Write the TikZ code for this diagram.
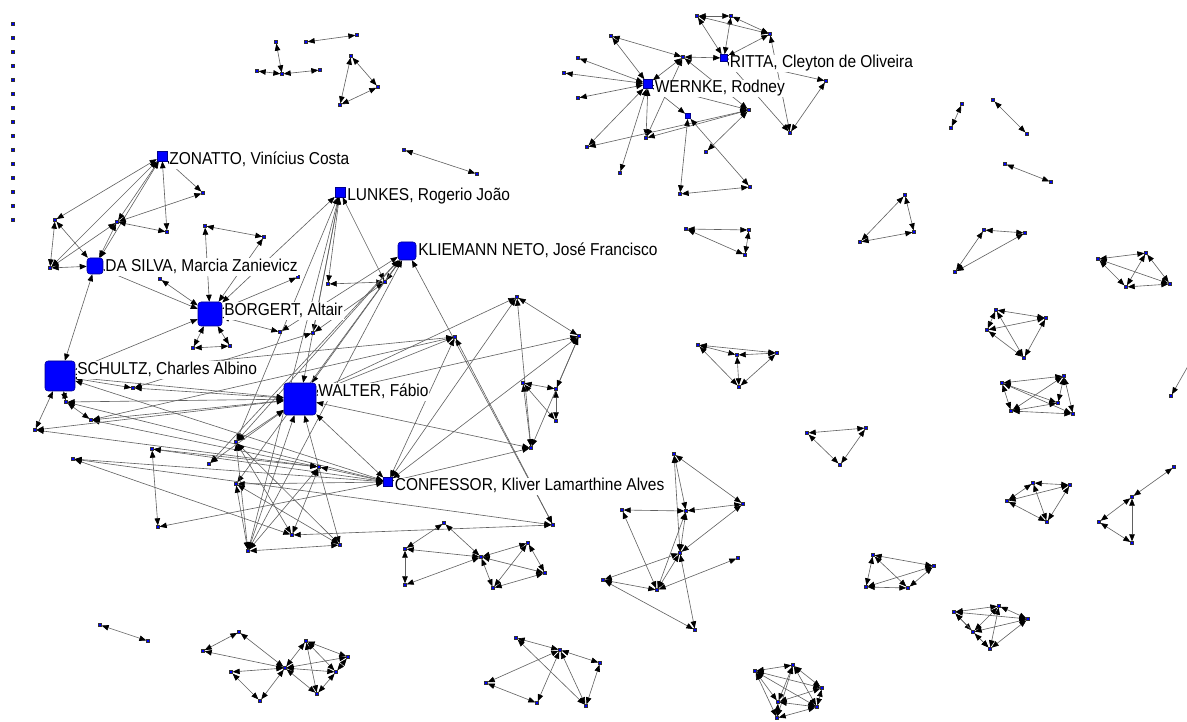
\documentclass[tikz,border=0pt]{standalone}
\usepackage{fontspec}
\setmainfont{Liberation Sans}
\newfontfamily\labfont[FakeStretch=0.9]{Liberation Sans}
\usetikzlibrary{arrows.meta}
\pgfdeclarelayer{bg}
\pgfsetlayers{bg,main}
\tikzset{
  v/.style={rectangle, fill=blue, draw=black!80, line width=0.2pt, minimum size=0.6mm, inner sep=0pt},
  hub/.style={rectangle, fill=blue, draw=blue!55!black, line width=0.3pt, inner sep=0pt},
  bighub/.style={hub, rounded corners=0.6mm},
  lab/.style={anchor=north west, fill=white, inner sep=0.4pt, text height=7.1pt, text depth=2.1pt, font=\labfont\fontsize{9.8}{11}\selectfont, xshift=0.2mm},
  lk/.style={draw=black!62, line width=0.35pt, arrows={Triangle[length=1.4mm,width=1.1mm,black]-Triangle[length=1.4mm,width=1.1mm,black]}}
}
\begin{document}
\begin{tikzpicture}[x=0.02cm,y=-0.02cm]
\useasboundingbox (0,0) rectangle (1187,722);
% isolates
\foreach \k in {0,...,14} \node[v] (iso\k) at (13,{24+14*\k}) {};
% hubs
\node[hub, minimum size=2mm] (Z) at (162,156) {};
\node[hub, minimum size=2mm] (L) at (340,192) {};
\node[bighub, minimum size=3.6mm] (K) at (407,251) {};
\node[bighub, minimum size=3.2mm] (DS) at (95,266) {};
\node[bighub, minimum size=4.8mm] (B) at (210,314) {};
\node[bighub, minimum size=6mm] (S) at (60,376) {};
\node[bighub, minimum size=6.4mm] (W) at (300,399) {};
\node[hub, minimum size=1.8mm] (CF) at (388,482) {};
\node[hub, minimum size=1.8mm] (Wk) at (648,84) {};
\node[hub, minimum size=1.4mm] (R) at (724,58) {};
\node[hub, minimum size=1.1mm] (p12) at (688,116) {};
% small nodes
\foreach \n/\x/\y in {n1/55/220, n2/50/268, n3/117/222, n4/167/232, n5/203/193, n6/205/226, n7/264/237,
  n9/160/279, n10/298/277, n11/280/332, n12/313/333, n13/193/348, n14/230/346, n15/328/284, n16/385/282,
  e1/133/388, e2/66/402, e3/91/420, e4/35/430, e5/152/449, e6/73/459, e7/236/442, e8/209/464, e9/319/467,
  e10/236/484, e11/158/527, e12/292/535, e13/340/545, e14/248/551, e15/455/337, e16/579/336, e17/523/383,
  e18/556/389, e19/556/421, e20/531/448, e21/553/525, f1/517/297,
  g1/444/523, g2/405/549, g3/405/585, g4/481/557, g5/528/543, g6/545/573, g7/493/588,
  h1/239/632, h2/203/651, h3/231/672, h4/260/701, h5/285/668, h6/306/641, h7/348/657, h8/336/672, h9/317/694,
  o1/100/625, o2/148/641,
  i1/516/638, i2/560/650, i5/600/663, i3/486/683, i4/537/703, i6/586/706,
  m1/674/454, m2/743/504, m3/686/511, m4/622/510, m5/680/553, m6/738/558, m7/603/580, m8/657/590, m9/695/630,
  k1/755/671, k2/793/665, k3/822/688, k4/817/707, k5/778/702, k6/777/718,
  p1/697/16, p2/731/16, p3/770/34, p4/611/36, p6/578/58, p7/564/73, p8/578/98, p9/683/57, p10/826/81,
  p11/749/110, p13/646/138, p14/587/147, p15/706/152, p16/790/133, p17/620/173, p18/680/194, p19/750/187,
  q1/276/42, q2/282/74, q3/257/71, q4/320/70, q5/306/42, q6/357/35, q7/351/56, q8/378/87, q9/340/105,
  q10/404/150, q11/477/174,
  r1/962/104, r2/951/128, r3/993/100, r4/1027/134, r5/1005/164, r6/1051/182,
  s1/984/230, s2/1025/233, s3/955/272,
  t1/1098/259, t2/1146/253, t3/1170/284, t4/1126/287,
  u1/996/310, u2/1046/318, u3/987/330, u4/1024/358,
  v1/1002/383, v2/1064/376, v3/1058/403, v4/1073/414, v5/1011/411, w1/1171/396,
  x1/686/229, x2/749/230, x3/745/255,
  y1/905/195, y2/914/232, y3/860/242,
  z1/698/345, z2/737/355, z3/777/353, z4/739/387,
  a1/807/433, a2/866/428, a3/840/465,
  b0/1174/467, b1/1132/497, b2/1099/522, b3/1132/543,
  c1/1033/483, c2/1070/485, c3/1007/501, c4/1047/522,
  d1/873/555, d2/934/566, d3/866/587, d4/908/588,
  f2/954/612, f3/999/606, f4/1028/619, f5/973/632, f6/990/649}
  \node[v] (\n) at (\x,\y) {};
\coordinate (wout) at (1196,352);
% labels
\node[lab] at (Z.north east) {ZONATTO, Vinícius Costa};
\node[lab] at (L.north east) {LUNKES, Rogerio João};
\node[lab] at (K.north east) {KLIEMANN NETO, José Francisco};
\node[lab] at (DS.north east) {DA SILVA, Marcia Zanievicz};
\node[lab] at (B.north east) {BORGERT, Altair};
\node[lab] at (S.north east) {SCHULTZ, Charles Albino};
\node[lab] at (W.north east) {WALTER, Fábio};
\node[lab] at (CF.north east) {CONFESSOR, Kliver Lamarthine Alves};
\node[lab] at (Wk.north east) {WERNKE, Rodney};
\node[lab] at (R.north east) {RITTA, Cleyton de Oliveira};
\begin{pgfonlayer}{bg}
\foreach \a/\b in {Z/n1, Z/n2, Z/n3, Z/n4, Z/n5, Z/DS, n1/n2, n1/DS, n2/DS, n3/n4, n3/n5, n3/n2, n3/DS,
  DS/B, DS/S, n9/B, n6/B, n6/n7, n7/B, L/B, n10/B, B/n11, n11/K, n13/n14, n13/B, n14/B, S/B, e1/n12,
  L/n12, n12/n16, L/n15, n15/n16, L/n16, K/n16, L/W, L/e7, L/e14, K/W, K/e7, K/e8, K/e14, K/e10, K/e21,
  CF/e15, CF/f1, CF/e16, CF/e20, f1/W, f1/e16, f1/e20, e16/e20, e16/e18, e16/W, e15/W, e15/S,
  e15/e21, e15/e3, e17/e18, e17/e19, e18/e19, e17/e20, W/e20, W/CF, S/CF, S/W, S/e1, e1/W, S/e4, e2/W,
  e3/W, e2/e3, e3/e9, e2/CF, e4/W, e4/e9, e5/e11, e5/e9, e5/CF, e6/e21, e6/e12, e6/CF, e7/W, e7/e14,
  e7/e12, e7/e13, e8/W, e9/e12, e9/e14, e9/CF, e10/e14, e10/e13, e10/CF, e11/CF, e12/e21, e13/e14,
  e13/W, e14/W, e2/S,
  g1/g2, g1/g4, g2/g3, g2/g4, g3/g4, g4/g5, g4/g6, g4/g7, g5/g6, g5/g7, g6/g7,
  h1/h2, h1/h5, h2/h5, h3/h5, h3/h4, h4/h5, h5/h6, h5/h7, h5/h8, h5/h9, h6/h7, h6/h8, h6/h9, h7/h8, h8/h9,
  o1/o2, i1/i2, i2/i5, i1/i6, i2/i3, i2/i4, i2/i6, i3/i4, i5/i6,
  m1/m2, m1/m3, m1/m5, m2/m3, m2/m5, m3/m4, m3/m5, m3/m8, m4/m8, m5/m7, m5/m8, m7/m8, m8/m6, m7/m9, m5/m9,
  k1/k2, k1/k3, k1/k4, k1/k5, k1/k6, k2/k3, k2/k5, k2/k6, k3/k4, k3/k5, k4/k5, k4/k6, k5/k6, k2/k4,
  Wk/p4, Wk/p6, Wk/p7, Wk/p8, Wk/p9, Wk/p13, Wk/p14, Wk/p17, Wk/p12, Wk/p11, p4/p9, p9/R, R/p1, R/p2,
  p1/p2, p1/p3, p2/p3, R/p3, R/p10, p3/p16, p10/p16, R/p16, p11/p13, p11/p14, p11/p15, p11/p9,
  p12/p18, p12/p19, p18/p19, p13/p9,
  q2/q1, q2/q3, q2/q4, q5/q6, q7/q8, q8/q9, q9/q7, q10/q11,
  r1/r2, r3/r4, r5/r6, s1/s2, s1/s3, s2/s3,
  t1/t2, t1/t3, t1/t4, t2/t3, t2/t4, t3/t4,
  u1/u2, u1/u3, u1/u4, u2/u3, u2/u4, u3/u4,
  v1/v2, v1/v3, v1/v4, v1/v5, v2/v3, v2/v4, v2/v5, v3/v5, v4/v5, w1/wout,
  x1/x2, x1/x3, x2/x3, y1/y2, y1/y3, y2/y3,
  z1/z2, z1/z3, z1/z4, z2/z3, z2/z4, z3/z4, a1/a2, a1/a3, a2/a3,
  b0/b1, b1/b2, b1/b3, b2/b3, c1/c2, c1/c3, c1/c4, c2/c3, c2/c4, c3/c4,
  d1/d2, d1/d3, d1/d4, d2/d3, d2/d4, d3/d4,
  f2/f3, f2/f4, f2/f5, f2/f6, f3/f4, f3/f5, f3/f6, f4/f5, f4/f6, f5/f6}
  \draw[lk] (\a) -- (\b);
\end{pgfonlayer}
\end{tikzpicture}
\end{document}
